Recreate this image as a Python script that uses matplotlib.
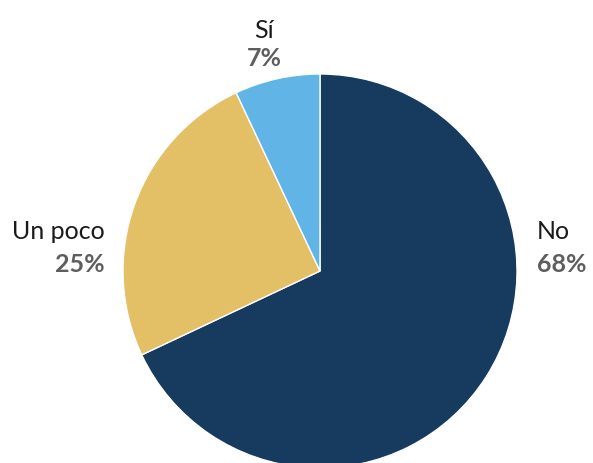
import matplotlib
matplotlib.use("Agg")
import matplotlib.pyplot as plt

categories = ["No", "Un poco", "Sí"]
values = [68, 25, 7]
colors = ["#173a5f", "#e3bf65", "#61b5e6"]

W, H = 593, 464
fig = plt.figure(figsize=(W / 100, H / 100), dpi=100)
cx, cy, r = 320, 272, 197
ax = fig.add_axes([(cx - r) / W, (H - cy - r) / H, 2 * r / W, 2 * r / H])
ax.pie(values, colors=colors, startangle=90, counterclock=False,
       wedgeprops=dict(linewidth=1, edgecolor="white"))
ax.set_xlim(-1, 1)
ax.set_ylim(-1, 1)
ax.set_aspect("equal")
ax.axis("off")

# label positions in pixels: x, name baseline, percent baseline, alignment
label_pos = {
    "No": (537, 239, 272, "left"),
    "Un poco": (105, 239, 272, "right"),
    "Sí": (264, 38, 66, "center"),
}
fs = 18
for cat, val in zip(categories, values):
    x, y1, y2, ha = label_pos[cat]
    fig.text(x / W, 1 - y1 / H, cat, ha=ha, va="baseline", fontsize=fs,
             family="Lato", color="#1a1a1a")
    fig.text(x / W, 1 - y2 / H, f"{val}%", ha=ha, va="baseline",
             fontsize=fs, family="Lato", fontweight="bold", color="#5e5e5e")

fig.savefig("out.png", dpi=100)
